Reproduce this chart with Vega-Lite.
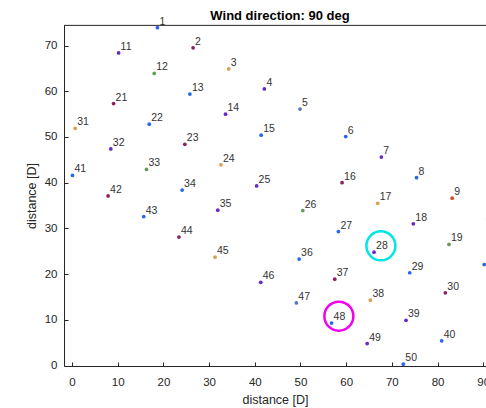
{
  "$schema": "https://vega.github.io/schema/vega-lite/v6.json",
  "width": 422,
  "height": 341,
  "autosize": {"type": "none"},
  "padding": {"left": 64, "top": 25, "right": 0, "bottom": 42},
  "background": "white",
  "title": {"text": "Wind direction: 90 deg", "fontSize": 13, "fontWeight": "bold", "font": "Liberation Sans", "color": "#000000", "frame": "group", "anchor": "middle", "offset": 5, "dx": 5, "dy": 11},
  "config": {
    "view": {"stroke": null},
    "axis": {"grid": false, "domainColor": "#262626", "tickColor": "#262626", "labelColor": "#262626", "titleColor": "#262626", "labelFont": "Liberation Sans", "titleFont": "Liberation Sans", "labelFontSize": 11.5, "titleFontSize": 12.5, "titleFontWeight": "normal", "tickSize": -4, "domainWidth": 1, "tickWidth": 1}
  },
  "datasets": {
    "frame": [{"edge": "top", "xs": -1.75, "xe": 90.6, "yv": 74.42}],
    "turbines": [
      {"id": "1", "x": 18.7, "y": 73.9, "g": "blue"},
      {"id": "2", "x": 26.5, "y": 69.5, "g": "darkred"},
      {"id": "3", "x": 34.3, "y": 64.9, "g": "tan"},
      {"id": "4", "x": 42.1, "y": 60.5, "g": "purple"},
      {"id": "5", "x": 49.9, "y": 56.1, "g": "steel"},
      {"id": "6", "x": 59.9, "y": 50.1, "g": "blue"},
      {"id": "7", "x": 67.7, "y": 45.6, "g": "purple"},
      {"id": "8", "x": 75.4, "y": 41.1, "g": "blue"},
      {"id": "9", "x": 83.2, "y": 36.6, "g": "red"},
      {"id": "10", "x": 91.0, "y": 32.1, "g": "blue"},
      {"id": "11", "x": 10.2, "y": 68.4, "g": "purple"},
      {"id": "12", "x": 18.0, "y": 63.9, "g": "olive"},
      {"id": "13", "x": 25.8, "y": 59.4, "g": "blue"},
      {"id": "14", "x": 33.6, "y": 55.0, "g": "purple"},
      {"id": "15", "x": 41.4, "y": 50.4, "g": "blue"},
      {"id": "16", "x": 59.1, "y": 40.0, "g": "darkred"},
      {"id": "17", "x": 66.9, "y": 35.5, "g": "tan"},
      {"id": "18", "x": 74.7, "y": 31.0, "g": "purple"},
      {"id": "19", "x": 82.5, "y": 26.5, "g": "olive"},
      {"id": "20", "x": 90.2, "y": 22.1, "g": "blue"},
      {"id": "21", "x": 9.1, "y": 57.3, "g": "darkred"},
      {"id": "22", "x": 16.9, "y": 52.8, "g": "blue"},
      {"id": "23", "x": 24.7, "y": 48.4, "g": "darkred"},
      {"id": "24", "x": 32.6, "y": 43.9, "g": "tan"},
      {"id": "25", "x": 40.4, "y": 39.3, "g": "purple"},
      {"id": "26", "x": 50.5, "y": 33.9, "g": "olive"},
      {"id": "27", "x": 58.3, "y": 29.3, "g": "blue"},
      {"id": "28", "x": 66.1, "y": 24.8, "g": "purple"},
      {"id": "29", "x": 73.9, "y": 20.3, "g": "blue"},
      {"id": "30", "x": 81.7, "y": 15.9, "g": "darkred"},
      {"id": "31", "x": 0.7, "y": 51.9, "g": "tan"},
      {"id": "32", "x": 8.5, "y": 47.4, "g": "purple"},
      {"id": "33", "x": 16.3, "y": 42.9, "g": "olive"},
      {"id": "34", "x": 24.1, "y": 38.4, "g": "blue"},
      {"id": "35", "x": 31.9, "y": 34.0, "g": "purple"},
      {"id": "36", "x": 49.7, "y": 23.3, "g": "blue"},
      {"id": "37", "x": 57.5, "y": 18.9, "g": "darkred"},
      {"id": "38", "x": 65.3, "y": 14.3, "g": "tan"},
      {"id": "39", "x": 73.1, "y": 9.9, "g": "purple"},
      {"id": "40", "x": 80.9, "y": 5.4, "g": "blue"},
      {"id": "41", "x": 0.1, "y": 41.6, "g": "blue"},
      {"id": "42", "x": 7.9, "y": 37.1, "g": "darkred"},
      {"id": "43", "x": 15.7, "y": 32.6, "g": "blue"},
      {"id": "44", "x": 23.4, "y": 28.1, "g": "darkred"},
      {"id": "45", "x": 31.3, "y": 23.7, "g": "tan"},
      {"id": "46", "x": 41.3, "y": 18.2, "g": "purple"},
      {"id": "47", "x": 49.1, "y": 13.7, "g": "steel"},
      {"id": "48", "x": 56.8, "y": 9.3, "g": "blue"},
      {"id": "49", "x": 64.6, "y": 4.8, "g": "purple"},
      {"id": "50", "x": 72.5, "y": 0.3, "g": "blue"}
    ],
    "circles": [
      {"x": 67.6, "y": 26.2, "c": "cyan"},
      {"x": 58.4, "y": 10.8, "c": "magenta"}
    ]
  },
  "layer": [
    {
      "data": {"name": "turbines"},
      "mark": {"type": "point", "filled": true, "shape": "circle", "size": 14, "opacity": 1},
      "encoding": {
        "x": {"field": "x", "type": "quantitative", "scale": {"domain": [-1.75, 90.6], "nice": false, "zero": false}, "axis": {"orient": "bottom", "values": [0, 10, 20, 30, 40, 50, 60, 70, 80, 90], "title": "distance [D]", "labelPadding": 14, "titlePadding": 6}},
        "y": {"field": "y", "type": "quantitative", "scale": {"domain": [-0.1, 74.5], "nice": false, "zero": false}, "axis": {"values": [0, 10, 20, 30, 40, 50, 60, 70], "title": "distance [D]", "labelPadding": 11, "titlePadding": 6}},
        "color": {"field": "g", "type": "nominal", "legend": null, "scale": {"domain": ["blue", "purple", "darkred", "tan", "olive", "red", "steel"], "range": ["#2466ee", "#6428c8", "#8e1f5c", "#d8a050", "#6a9a5a", "#d84a2a", "#5a78b4"]}}
      }
    },
    {
      "data": {"name": "frame"},
      "mark": {"type": "rule", "color": "#262626", "strokeWidth": 1},
      "encoding": {
        "x": {"field": "xs", "type": "quantitative"},
        "x2": {"field": "xe"},
        "y": {"field": "yv", "type": "quantitative"}
      }
    },
    {
      "data": {"name": "turbines"},
      "mark": {"type": "text", "align": "left", "baseline": "alphabetic", "dx": 2, "dy": -3, "fontSize": 10.5, "font": "Liberation Sans", "color": "#333333"},
      "encoding": {
        "x": {"field": "x", "type": "quantitative"},
        "y": {"field": "y", "type": "quantitative"},
        "text": {"field": "id"}
      }
    },
    {
      "data": {"name": "circles"},
      "mark": {"type": "point", "filled": false, "shape": "circle", "size": 841, "strokeWidth": 2.5, "opacity": 1},
      "encoding": {
        "x": {"field": "x", "type": "quantitative"},
        "y": {"field": "y", "type": "quantitative"},
        "stroke": {"field": "c", "type": "nominal", "legend": null, "scale": {"domain": ["cyan", "magenta"], "range": ["#00e5e5", "#f000f0"]}}
      }
    }
  ]
}
